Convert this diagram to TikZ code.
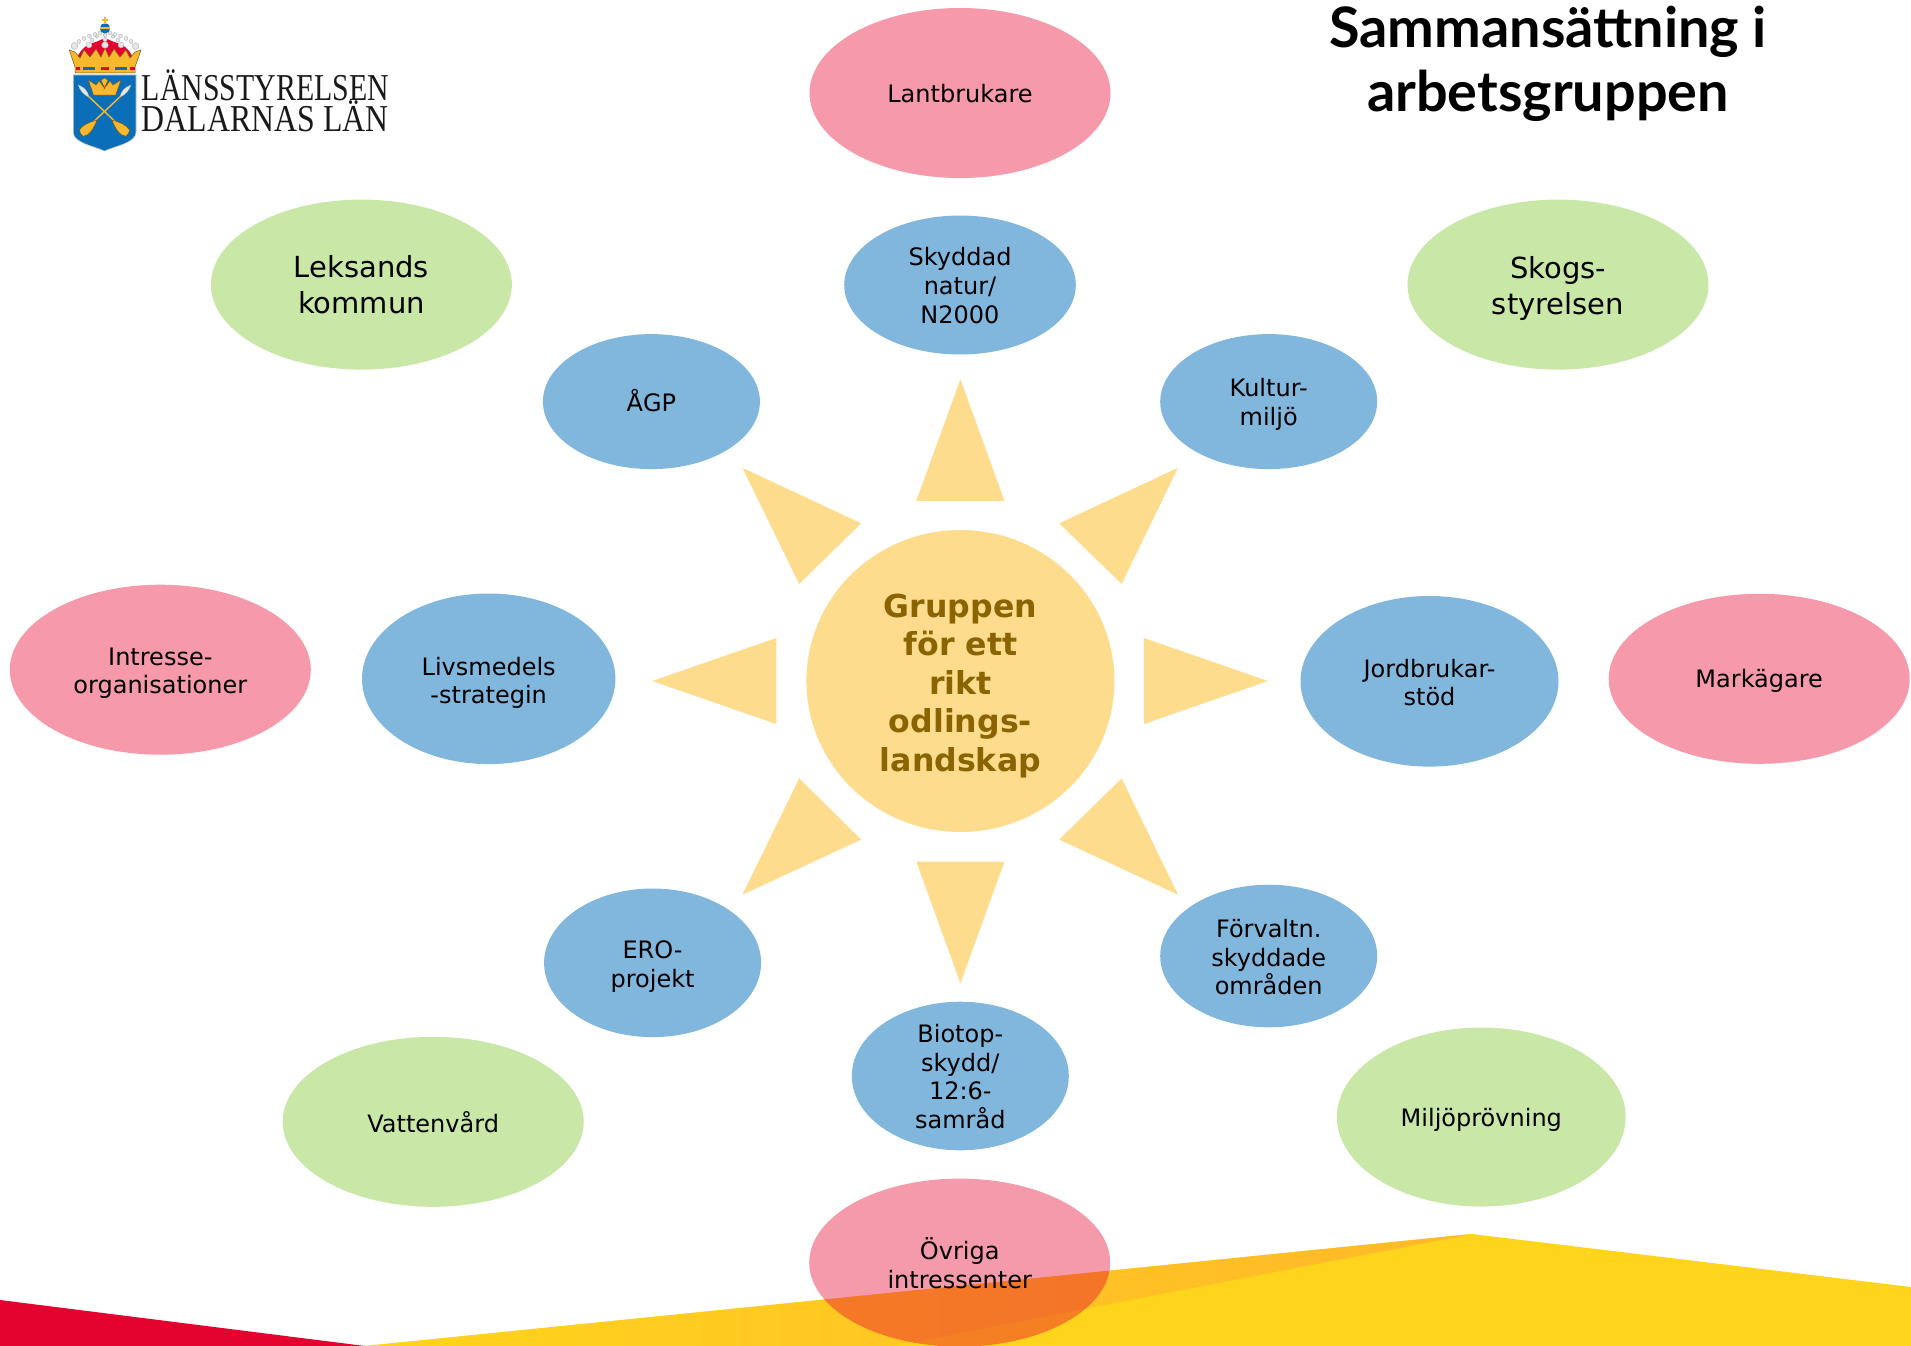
\documentclass[tikz,border=0pt]{standalone}
\usepackage{fontspec}
\usetikzlibrary{shapes.geometric}
\setmainfont{DejaVu Sans}
\newfontfamily\titlefont{Lato}
\newfontfamily\logofont{Liberation Serif}
\definecolor{pinkE}{HTML}{F599AB}
\definecolor{redE}{HTML}{E4032E}
\definecolor{greenE}{HTML}{C9E7A7}
\definecolor{blueE}{HTML}{82B7DD}
\definecolor{sunE}{HTML}{FDDC8E}
\definecolor{sunT}{HTML}{8A6400}
\definecolor{yelB}{HTML}{FFD41C}
\definecolor{yelD}{HTML}{FFB829}
\definecolor{shieldB}{HTML}{0A6EB8}
\definecolor{goldL}{HTML}{F8B82E}
\definecolor{goldD}{HTML}{7A5A10}
\definecolor{pearl}{HTML}{E6E6E6}
\definecolor{crownR}{HTML}{E4032E}
\tikzset{
  oval/.style={ellipse,inner sep=0pt},
  pinkoval/.style={oval,fill=pinkE,minimum width=301pt,minimum height=170pt},
  greenoval/.style={oval,fill=greenE,minimum width=301pt,minimum height=170pt},
  blueoval/.style={oval,fill=blueE},
  lab/.style={inner sep=0pt,align=center,text=black,font=\fontsize{24}{28.8}\selectfont},
  biglab/.style={lab,font=\fontsize{29}{36}\selectfont},
  sunlab/.style={lab,text=sunT,font=\fontsize{31.6}{38.4}\selectfont\bfseries},
  ray/.style={fill=sunE},
  gold/.style={fill=goldL,draw=goldD,line width=.5pt},
  pearlb/.style={fill=pearl,draw=gray!70,line width=.3pt},
  logotxt/.style={inner sep=0pt,anchor=base west,text=black!90,font=\logofont\fontsize{38}{38}\selectfont}
}
\newcommand{\ovlab}[4][lab]{\node[#1] (#2t) at ([yshift=-#3pt]#2.center) {#4};}
\begin{document}
\begin{tikzpicture}[x=1pt,y=-1pt]
\useasboundingbox (0,0) rectangle (1911,1346);
% bottom band
\fill[redE] (0,1300) -- (365,1346) -- (0,1346) -- cycle;
\fill[yelB] (365,1346) -- (1472,1234) -- (1911,1287) -- (1911,1346) -- cycle;
\path[left color=yelB,right color=yelD] (365,1346) -- (1472,1234) -- (892,1346) -- cycle;
% rays
\fill[ray] (960.4,379.2) -- (1004.5,500.8) -- (916.3,500.8) -- cycle;
\fill[ray] (960.4,983.3) -- (1004.5,861.6) -- (916.3,861.6) -- cycle;
\fill[ray] (1267.8,681) -- (1144,638) -- (1144,724) -- cycle;
\fill[ray] (652.2,681) -- (776.3,638) -- (776.3,724) -- cycle;
\fill[ray] (1178,467.8) -- (1059.2,523.3) -- (1121.6,584) -- cycle;
\fill[ray] (742.4,467.8) -- (861.2,523.3) -- (799.2,584) -- cycle;
\fill[ray] (1178,894.7) -- (1059.2,839.6) -- (1121.6,778.4) -- cycle;
\fill[ray] (742.4,894.7) -- (861.2,839.6) -- (799.2,778.4) -- cycle;
% centre
\node[oval,fill=sunE,minimum width=308pt,minimum height=302pt] (centre) at (960.4,681) {};
\ovlab[sunlab]{centre}{4.8}{Gruppen\\för ett\\rikt\\odlings-\\landskap}
% ovals
\node[pinkoval] (lant) at (960,93) {};
\ovlab{lant}{.8}{Lantbrukare}
\node[greenoval] (leks) at (361.4,284.6) {};
\ovlab[biglab]{leks}{0}{Leksands\\kommun}
\node[greenoval] (skog) at (1558,284.6) {};
\ovlab[biglab]{skog}{3.6}{Skogs-\\styrelsen}
\node[blueoval,minimum width=231.6pt,minimum height=139pt] (skyd) at (960,285) {};
\ovlab{skyd}{.8}{Skyddad\\natur/\\N2000}
\node[blueoval,minimum width=217pt,minimum height=135pt] (agp) at (651.4,401.6) {};
\ovlab{agp}{-1}{ÅGP}
\node[blueoval,minimum width=217pt,minimum height=135pt] (kult) at (1268.7,401.6) {};
\ovlab{kult}{3}{Kultur-\\miljö}
\node[pinkoval] (intr) at (160.3,669.7) {};
\ovlab{intr}{3.6}{Intresse-\\organisationer}
\node[blueoval,minimum width=253.4pt,minimum height=170.6pt] (livs) at (488.7,678.8) {};
\ovlab{livs}{4}{Livsmedels\\-strategin}
\node[blueoval,minimum width=258pt,minimum height=170.6pt] (jord) at (1429.5,681.3) {};
\ovlab{jord}{1.2}{Jordbrukar-\\stöd}
\node[pinkoval] (mark) at (1759.2,678.8) {};
\ovlab{mark}{2.4}{Markägare}
\node[blueoval,minimum width=217pt,minimum height=148.6pt] (ero) at (652.6,962.8) {};
\ovlab{ero}{3.6}{ERO-\\projekt}
\node[blueoval,minimum width=217pt,minimum height=142.6pt] (forv) at (1268.7,956) {};
\ovlab{forv}{1.2}{Förvaltn.\\skyddade\\områden}
\node[blueoval,minimum width=217pt,minimum height=148.6pt] (biot) at (960.3,1076) {};
\ovlab{biot}{.6}{Biotop-\\skydd/\\12:6-\\samråd}
\node[greenoval] (vatt) at (433.2,1121.8) {};
\ovlab{vatt}{0}{Vattenvård}
\node[greenoval,minimum width=288.8pt,minimum height=179pt] (milj) at (1481.3,1117) {};
\ovlab{milj}{2.4}{Miljöprövning}
\node[oval,fill=redE,fill opacity=.4,minimum width=301pt,minimum height=168pt] (ovri) at (959.7,1262.6) {};
\ovlab{ovri}{.5}{Övriga\\intressenter}
% title
\node[inner sep=0pt,align=center,text=black,font=\titlefont\fontsize{55.8}{63.4}\selectfont\bfseries] (titel) at (1548,64) {Sammansättning i\\arbetsgruppen};
% logo: shield
\fill[shieldB,draw=gray!50,line width=.6pt] (73.3,75) -- (136,75) -- (136,132) .. controls (136,143) and (115,146) .. (104.5,151) .. controls (94,146) and (73.3,143) .. (73.3,132) -- cycle;
% logo: arrows
\draw[goldL,line width=1.4pt] (85,93) -- (124,130);
\draw[goldL,line width=1.4pt] (124,93) -- (85,130);
\fill[pearl,draw=gray!60,line width=.3pt] (78.3,85) .. controls (84,87) and (88,91) .. (89,97) .. controls (84,95) and (80,91) .. (78.3,85) -- cycle;
\fill[pearl,draw=gray!60,line width=.3pt] (131,85) .. controls (125,87) and (121,91) .. (120,97) .. controls (125,95) and (129,91) .. (131,85) -- cycle;
\fill[gold] (97,120) .. controls (90,122) and (82,125) .. (79.5,130) .. controls (80,134) and (83,137) .. (84,136) .. controls (89,136) and (94,128) .. (97,120) -- cycle;
\fill[gold] (112,120) .. controls (119,122) and (127,125) .. (129.5,130) .. controls (129,134) and (126,137) .. (125,136) .. controls (120,136) and (115,128) .. (112,120) -- cycle;
% logo: small crown
\fill[gold] (93.5,95) -- (88.3,80) -- (96,85) -- (99,81) -- (104.5,88) -- (101,80) -- (104.5,78) -- (108,80) -- (104.5,88) -- (110,81) -- (113,85) -- (121,80) -- (115.7,95) -- cycle;
% logo: big crown
\fill[crownR] (76,60) .. controls (80,50) and (86,44) .. (96,42) -- (105,38) -- (114,42) .. controls (124,44) and (130,50) .. (134,60) -- cycle;
\foreach \px/\py/\pr in {74.5/46/3.4,79/41.5/2,84/38.5/2,89.5/36/2,95/34.5/2,100/33/2,
  135.5/46/3.4,131/41.5/2,126/38.5/2,120.5/36/2,115/34.5/2,110/33/2,
  89/45/3,92/40/2,97/36.5/1.8,121/45/3,118/40/2,113/36.5/1.8,
  105/45/3.4,105/39.5/2.2,105/35/2}
  {\fill[pearlb] (\px,\py) circle (\pr);}
\fill[gold] (69.3,50) -- (75,52) -- (80,58) -- (84,50) -- (90,57) -- (96,49) -- (101,57) -- (105,48) -- (109,57) -- (114,49) -- (120,57) -- (126,50) -- (130,58) -- (135,52) -- (141,50) -- (135,67) -- (135,73) -- (75,73) -- (75,67) -- cycle;
\fill[shieldB] (83,67.2) rectangle (95,70.2);
\fill[shieldB] (115,67.2) rectangle (127,70.2);
\fill[crownR] (75.5,67.5) rectangle (80,70);
\fill[crownR] (130,67.5) rectangle (134.5,70);
\fill[crownR] (101,67.5) rectangle (109,70);
\fill[shieldB] (105,28.3) circle (5.2);
\fill[goldL] (100,27.5) rectangle (110,29);
\fill[goldL] (104,17) rectangle (106,24);
\fill[goldL] (102,19) rectangle (108,21);
% logo: text
\node[logotxt] (lan1) at (141.7,100) {\scalebox{.785}[1]{LÄNSSTYRELSEN}};
\node[logotxt] (lan2) at (141.7,131.7) {\scalebox{.837}[1]{DALARNAS LÄN}};
\end{tikzpicture}
\end{document}
